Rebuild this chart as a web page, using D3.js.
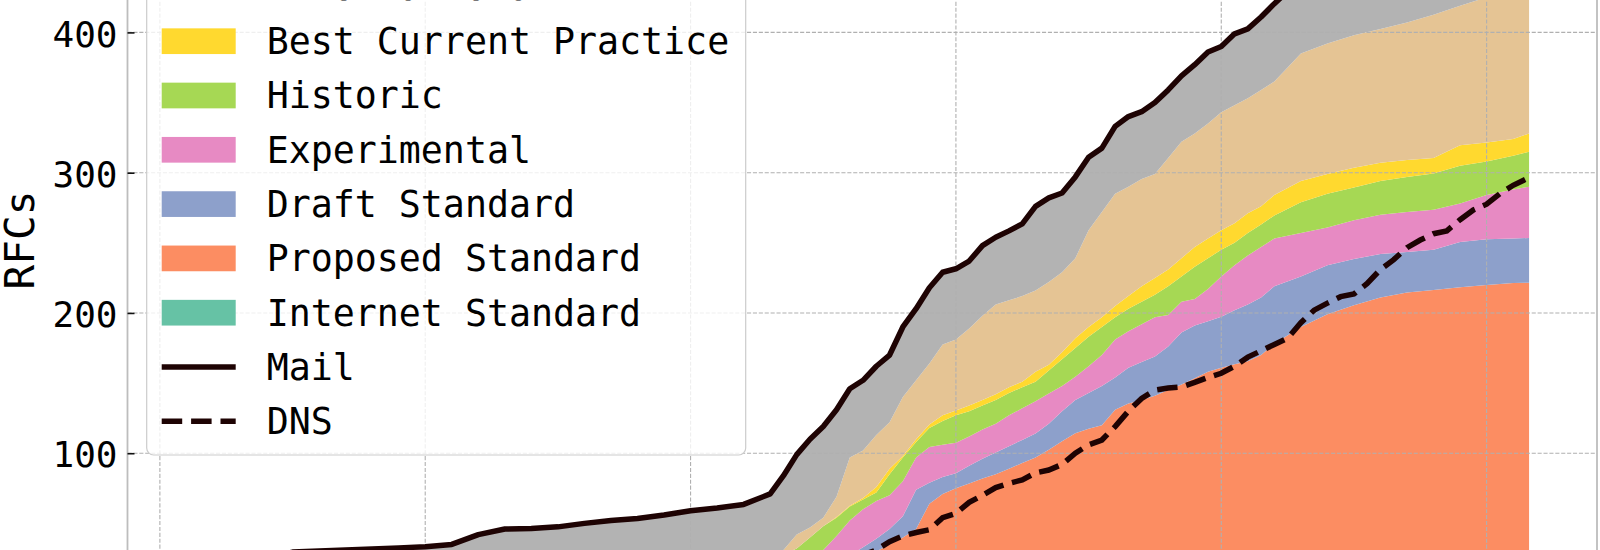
<!DOCTYPE html>
<html lang="en">

<head>
    <meta charset="UTF-8">
    <title>RFCs by status</title>
    <script src="https://d3js.org/d3.v7.js"></script>
    <style>
        body { margin: 0; background: #fff; overflow: hidden; }
        svg { display: block; }
    </style>
</head>

<body>
    <div class="canvas"></div>

    <script>
        // sample dates (years) for the status counts
        let years = [1971.3, 1972, 1973, 1974, 1975, 1976, 1977, 1978, 1979, 1980, 1981,
            1982, 1983, 1984, 1985, 1986, 1987, 1988, 1989, 1990, 1991, 1992,
            1993, 1993.5, 1994, 1994.5, 1995, 1995.5, 1996, 1996.5, 1997, 1997.5,
            1998, 1998.5, 1999, 1999.5, 2000, 2000.5, 2001, 2001.5, 2002, 2002.5,
            2003, 2003.5, 2004, 2004.5, 2005, 2005.5, 2006, 2006.5, 2007, 2007.5,
            2008, 2008.5, 2009, 2009.5, 2010, 2010.5, 2011, 2011.5, 2012,
            2013, 2014, 2015, 2016, 2017, 2018, 2019, 2020, 2021, 2021.6];

        // RFC count per status (stack order, bottom to top)
        let internetStd = [0, 0, 0, 0, 0, 0, 0, 0, 0, 0, 0, 2, 2, 2, 2, 2, 2, 2, 2, 3, 3, 3,
            3, 3, 4, 4, 4, 5, 5, 5, 6, 6, 6, 6, 7, 7, 7, 7, 8, 8, 8, 8, 8, 8, 8, 8, 8, 8, 8, 8, 8, 8, 9, 9, 9, 9, 9, 9, 9, 10, 10,
            10, 10, 10, 11, 11, 11, 11, 11, 11, 11];
        let proposedStd = [0, 0, 0, 0, 0, 0, 0, 0, 0, 0, 0, 0, 0, 0, 0, 0, 1, 1, 2, 2, 3, 4,
            5, 6, 7, 8, 10, 11, 14, 17, 24, 29, 34, 40, 57, 64, 68, 71.5, 74, 77, 81, 85, 89, 94.5, 100.5, 106.2,
            109.5, 112, 123, 127.5, 130, 133, 136, 140, 144.5, 149, 152, 154.5, 156.5, 160, 168,
            180, 189, 195.5, 200, 203.5, 205.4, 207.3, 209, 210.4, 210.6];
        let draftStd = [0, 0, 0, 0, 0, 0, 0, 0, 0, 0, 0, 0, 0, 0, 0, 0, 0, 1, 1, 1, 2, 2,
            3, 3, 3, 4, 5, 7, 8, 11, 9, 11, 15, 28, 15, 12, 10.7, 12.5, 14, 15.5, 16, 16.5, 17, 18.5, 21.5, 23.8,
            25.5, 28, 23, 25.5, 27, 28, 31, 37, 37.5, 36, 36.3, 38.5, 40.5, 41, 41,
            36, 35, 33, 31, 29, 28.6, 32.2, 32.5, 31.6, 31.9];
        let experimental = [0, 0, 0, 0, 0, 0, 0, 0, 0, 0, 0, 0, 0, 0, 0, 0, 0, 0, 1, 1, 1, 2,
            2, 3, 4, 8, 12, 18, 25, 27, 27, 24, 25, 23, 25.5, 23, 21.8, 21, 21, 20.5, 22, 22.5, 23, 21.5, 18, 16.5,
            19, 22, 27, 26, 27, 28, 22.5, 22, 19, 23, 28.7, 32, 35, 36, 34,
            31, 27, 27.5, 28, 28.5, 28.5, 27.5, 31.5, 35, 36.5];
        let historic = [0, 0, 0, 0, 0, 0, 0, 0, 0, 0, 0, 1, 2, 2, 2, 3, 3, 3, 3, 4, 4, 4,
            5, 13, 14, 16, 17, 13, 10, 7, 6, 15, 17, 11, 13.5, 17, 19.5, 18, 17, 17, 16, 15, 14, 16.5, 19, 20.5,
            21, 20, 16, 16, 16, 16, 20.5, 18, 23, 22, 19, 16, 16, 16, 16.5,
            22, 24, 23.5, 24, 25, 26, 27, 24, 24, 25];
        let bestCurrent = [0, 0, 0, 0, 0, 0, 0, 0, 0, 0, 0, 0, 0, 0, 0, 0, 0, 0, 0, 0, 0, 0,
            0, 0, 0, 0, 0, 0.5, 0.5, 1, 4, 4, 1, 2, 2.5, 4, 3.5, 4, 4, 4, 4, 4, 7, 4, 5, 7,
            7, 7, 8, 9, 11, 12, 12, 13, 14, 14, 14, 14, 14, 13, 14.5,
            15, 14, 14, 13, 12, 11, 14.5, 13.5, 12, 13];
        let informational = [0, 0, 0, 0, 0, 0, 0, 0, 0, 0, 0, 0, 0, 0, 1, 1, 2, 2, 3, 4, 5, 6,
            7, 3, 10, 7, 6, 14.5, 34.5, 34, 37, 33, 42, 42, 43.5, 50.5, 50.5, 55, 60, 64, 62, 61, 58, 59, 57, 57,
            69, 75, 80, 78, 76.5, 74, 79.5, 83, 81, 82, 84, 84, 82, 83, 81,
            91, 93, 94.5, 95.5, 98, 102, 99.5, 103.5, 106, 105];
        let unknown = [5, 12, 20, 25, 29.5, 30.3, 31, 31.8, 32.5, 33.4, 35, 39, 42, 42.3, 42.5, 44, 44, 44.5, 44, 44, 43, 42.5,
            46, 53, 57, 63, 65, 62, 49, 50, 49, 48, 50, 51, 54, 51.5, 50.5, 48, 50, 48, 49.5, 51.5, 60, 60, 56.5, 58,
            52, 45.5, 48, 50, 48, 51, 48.5, 47, 49, 51, 47, 51, 49.5, 52, 55.5,
            53, 60, 66, 72.5, 78, 81.5, 83, 85, 87, 87];

        // DNS RFCs (cumulative)
        let dnsYears = [1983, 1984, 1985, 1986, 1987, 1988, 1989, 1990, 1991, 1992, 1993, 1994, 1995, 1996,
            1997, 1997.5, 1998, 1998.5, 1999, 1999.5, 2000, 2000.5, 2001, 2001.5, 2002, 2002.5,
            2003, 2003.5, 2004, 2004.5, 2005, 2005.5, 2006, 2006.5, 2007, 2007.5, 2008, 2008.5,
            2009, 2009.5, 2010, 2010.5, 2011, 2011.5, 2012, 2012.5, 2013, 2013.5, 2014, 2014.5,
            2015, 2015.5, 2016, 2016.5, 2017, 2017.5, 2018, 2018.5, 2019, 2019.5, 2020, 2020.5,
            2021, 2021.6];
        let dnsCounts = [1, 3, 4, 5, 8, 9, 10, 11, 12, 13, 14, 16, 19, 24,
            31, 37, 41, 43.5, 45.5, 54, 57.2, 65, 70, 75.5, 78.5, 81,
            86, 88, 92, 100, 106, 109.4, 119, 130, 139, 145, 146.5, 147.3,
            150.5, 154, 157, 162, 168.5, 173, 177.5, 182, 193, 202, 207, 211.6,
            213.5, 221, 231, 238, 246.5, 252, 256.5, 258.5, 266.5, 273.4, 277.5, 285,
            291, 296.5];

        let statuses = ["Internet Standard", "Proposed Standard", "Draft Standard", "Experimental",
            "Historic", "Best Current Practice", "Informational", "Unknown"];
        let series = [internetStd, proposedStd, draftStd, experimental, historic, bestCurrent, informational, unknown];
        let yTicks = [100, 200, 300, 400];
        let xTicks = [1970, 1980, 1990, 2000, 2010, 2020];

        let font = "DejaVu Sans Mono";
        let color = d3.scaleOrdinal().domain(statuses).range(d3.schemeSet2);
        let lineColor = "#1e0303";

        // table for d3.stack
        let rows = years.map((yr, i) => {
            let r = { year: yr };
            statuses.forEach((s, k) => { r[s] = series[k][i]; });
            return r;
        });
        let stacked = d3.stack().keys(statuses)(rows);

        // 設定畫布 (only part of the axes is inside the window)
        let svg = d3.select(".canvas").append("svg")
            .attr("width", 1600)
            .attr("height", 550)
            .style("background", "#fff");

        let x = d3.scaleLinear().domain([1968.78, 2024.16]).range([127.5, 1597]);
        let y = d3.scaleLinear().domain([0, 400]).range([593.5, 32.4]);

        // stacked areas
        let area = d3.area()
            .x(d => x(d.data.year))
            .y0(d => y(d[0]))
            .y1(d => y(d[1]));
        svg.append("g").selectAll("path").data(stacked).enter().append("path")
            .attr("d", area)
            .attr("fill", d => color(d.key));

        // grid
        let grid = svg.append("g").attr("class", "grid")
            .attr("stroke", "#b0b0b0").attr("stroke-width", 1.1).attr("stroke-dasharray", "4.1,1.8");
        grid.selectAll(".gx").data(xTicks).enter().append("line")
            .attr("x1", d => x(d)).attr("x2", d => x(d))
            .attr("y1", -10).attr("y2", 600);
        grid.selectAll(".gy").data(yTicks).enter().append("line")
            .attr("x1", x.range()[0]).attr("x2", x.range()[1])
            .attr("y1", d => y(d)).attr("y2", d => y(d));

        // Mail = top of the stack, DNS dashed
        let stackTop = stacked[stacked.length - 1];
        svg.append("path")
            .datum(stackTop)
            .attr("fill", "none")
            .attr("stroke", lineColor)
            .attr("stroke-width", 5.5)
            .attr("stroke-linejoin", "round")
            .attr("d", d3.line().x(d => x(d.data.year)).y(d => y(d[1])));
        svg.append("path")
            .datum(dnsYears.map((yr, i) => [yr, dnsCounts[i]]))
            .attr("fill", "none")
            .attr("stroke", lineColor)
            .attr("stroke-width", 5.5)
            .attr("stroke-dasharray", "20.5,8.9")
            .attr("d", d3.line().x(d => x(d[0])).y(d => y(d[1])));

        // spines
        svg.append("line").attr("x1", x.range()[0]).attr("x2", x.range()[0]).attr("y1", -10).attr("y2", 600)
            .attr("stroke", "#bdbdbd").attr("stroke-width", 1.8);
        svg.append("line").attr("x1", x.range()[1]).attr("x2", x.range()[1]).attr("y1", -10).attr("y2", 600)
            .attr("stroke", "#bdbdbd").attr("stroke-width", 1.8);

        // y axis, ticks pointing inward
        let yAxis = svg.append("g")
            .attr("transform", "translate(" + x.range()[0] + ",0)")
            .call(d3.axisLeft(y).tickValues(yTicks).tickSize(-7).tickSizeOuter(0).tickPadding(10));
        yAxis.select(".domain").remove();
        yAxis.selectAll(".tick line").attr("stroke", "#111").attr("stroke-width", 1.6);
        yAxis.selectAll(".tick text")
            .attr("fill", "#000")
            .attr("dy", "0.38em")
            .style("font-family", font)
            .style("font-size", "36px");

        svg.append("text")
            .attr("transform", "translate(34,240) rotate(-90)")
            .attr("text-anchor", "middle")
            .style("font-family", font)
            .style("font-size", "41px")
            .text("RFCs");

        // legend
        let legendItems = statuses.slice().reverse().map(s => ({ name: s, kind: "area" }))
            .concat([{ name: "Mail", kind: "solid" }, { name: "DNS", kind: "dash" }]);
        let rowY = k => 41.2 + (k - 2) * 54.3;

        let legend = svg.append("g").attr("class", "legend");
        legend.append("rect")
            .attr("x", 146.7).attr("y", -120)
            .attr("width", 599).attr("height", 575)
            .attr("rx", 7)
            .attr("fill", "#fff").attr("fill-opacity", 0.8)
            .attr("stroke", "#cccccc").attr("stroke-width", 1.2);

        let item = legend.selectAll(".item").data(legendItems).enter().append("g")
            .attr("transform", (d, k) => "translate(0," + rowY(k) + ")");
        item.filter(d => d.kind === "area").append("rect")
            .attr("x", 161.7).attr("y", -12.85)
            .attr("width", 74).attr("height", 25.7)
            .attr("fill", d => color(d.name));
        item.filter(d => d.kind !== "area").append("line")
            .attr("x1", 161.7).attr("x2", 235.7)
            .attr("stroke", lineColor)
            .attr("stroke-width", 5.5)
            .attr("stroke-dasharray", d => d.kind === "dash" ? "20.5,8.9" : null);
        item.append("text")
            .attr("x", 266.7).attr("y", 12.8)
            .style("font-family", font)
            .style("font-size", "36.6px")
            .text(d => d.name);
    </script>
</body>

</html>
